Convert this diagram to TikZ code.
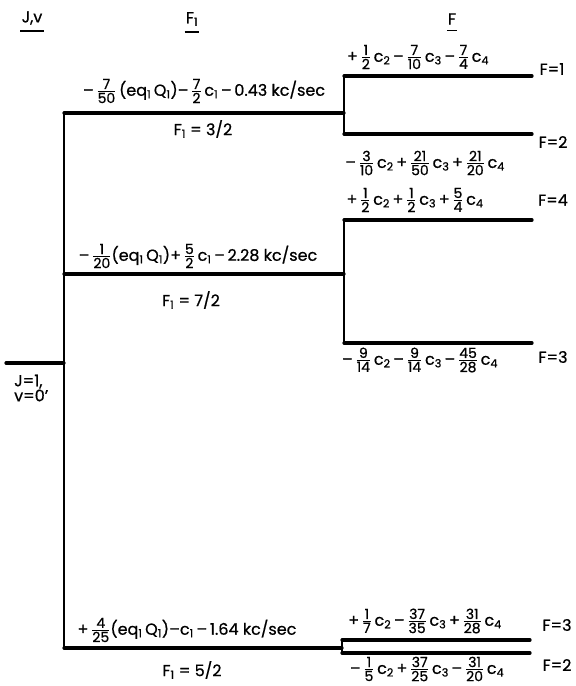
\documentclass[tikz,border=0pt]{standalone}
\usepackage{amsmath}
\usepackage{fontspec}
\setmainfont{Poppins}[FakeBold=0.7]
\newcommand{\fr}[2]{\ensuremath{\genfrac{}{}{0.9pt}{1}{\mbox{\fontsize{14}{14}\selectfont#1}}{\mbox{\fontsize{14}{14}\selectfont#2}}}}
\newcommand{\mi}{\,–\,}
\newcommand{\pl}{\,+\,}
\newcommand{\cc}[1]{c\textsubscript{#1}}
\newcommand{\eqQ}{(eq\textsubscript{1}\,Q\textsubscript{1})}
\tikzset{
  level/.style={line width=3.2pt, line cap=round},
  link/.style={line width=2.2pt},
  uline/.style={line width=1.4pt},
  flab/.style={font=\fontsize{16}{18}\selectfont}
}
\begin{document}
\begin{tikzpicture}[x=1pt, y=-1pt,
    every node/.style={font=\fontsize{16}{19}\selectfont, inner sep=1pt}]
    \useasboundingbox (0,0) rectangle (576,686);

    % column heads
    \node (hJ) at (32,18) {J,v};
    \node (hF1) at (192,19) {F\textsubscript{1}};
    \node (hF) at (452,19) {F};
    \draw[uline] ([yshift=-5pt]hJ.south west) -- ([yshift=-5pt]hJ.south east);
    \draw[uline] ([yshift=-5pt]hF1.south west) -- ([yshift=-5pt]hF1.south east);
    \draw[uline] ([yshift=-5pt]hF.south west) -- ([yshift=-5pt]hF.south east);

    % J level
    \coordinate (J0) at (6,363);
    \coordinate (J1) at (64,363);
    \draw[level] (J0) -- (J1);
    \node[anchor=west, align=left, font=\fontsize{16}{14}\selectfont] (jlab) at (13,388) {J=1,\\v=0'};

    % F1 levels
    \coordinate (A0) at (64,113);
    \coordinate (A1) at (344,113);
    \coordinate (B0) at (64,274);
    \coordinate (B1) at (344,274);
    \coordinate (C0) at (64,648);
    \coordinate (C1) at (342,648);
    \draw[link] (A0) -- (C0);
    \draw[level] (A0) -- (A1);
    \draw[level] (B0) -- (B1);
    \draw[level] (C0) -- (C1);

    \node (eA) at (204,91) {–\,\fr{7}{50}\,\eqQ–\,\fr{7}{2}\,\cc{1}\mi0.43 kc/sec};
    \node (fA) at (203,129) {F\textsubscript{1} = 3/2};
    \node (eB) at (198,256) {–\,\fr{1}{20}\eqQ+\,\fr{5}{2}\,\cc{1}\mi2.28 kc/sec};
    \node (fB) at (191,300) {F\textsubscript{1} = 7/2};
    \node (eC) at (187,630) {+\,\fr{4}{25}\eqQ–\cc{1}\mi1.64 kc/sec};
    \node (fC) at (192,670) {F\textsubscript{1} = 5/2};

    % F levels, F1 = 3/2
    \coordinate (a1) at (344,76);
    \coordinate (a1e) at (532,76);
    \coordinate (a2) at (344,134);
    \coordinate (a2e) at (532,134);
    \draw[link] (a1) -- (a2);
    \draw[level] (a1) -- (a1e);
    \draw[level] (a2) -- (a2e);
    \node (ea1) at (418,57) {+\,\fr{1}{2}\,\cc{2}\mi\fr{7}{10}\,\cc{3}\mi\fr{7}{4}\,\cc{4}};
    \node (ea2) at (425,163) {–\,\fr{3}{10}\,\cc{2}\pl\fr{21}{50}\,\cc{3}\pl\fr{21}{20}\,\cc{4}};
    \node[flab] (Fa1) at (552,69) {F=1};
    \node[flab] (Fa2) at (553,142) {F=2};

    % F levels, F1 = 7/2
    \coordinate (b4) at (344,220);
    \coordinate (b4e) at (532,220);
    \coordinate (b3) at (344,343);
    \coordinate (b3e) at (532,343);
    \draw[link] (b4) -- (b3);
    \draw[level] (b4) -- (b4e);
    \draw[level] (b3) -- (b3e);
    \node (eb4) at (415,200) {+\,\fr{1}{2}\,\cc{2}\pl\fr{1}{2}\,\cc{3}\pl\fr{5}{4}\,\cc{4}};
    \node (eb3) at (420,360) {–\,\fr{9}{14}\,\cc{2}\mi\fr{9}{14}\,\cc{3}\mi\fr{45}{28}\,\cc{4}};
    \node[flab] (Fb4) at (553,200) {F=4};
    \node[flab] (Fb3) at (553,357) {F=3};

    % F levels, F1 = 5/2
    \coordinate (c3) at (342,640);
    \coordinate (c3e) at (530,640);
    \coordinate (c2) at (342,653);
    \coordinate (c2e) at (530,653);
    \draw[link] (c3) -- (c2);
    \draw[level] (c3) -- (c3e);
    \draw[level] (c2) -- (c2e);
    \node (ec3) at (425,621) {+\,\fr{1}{7}\,\cc{2}\mi\fr{37}{35}\,\cc{3}\pl\fr{31}{28}\,\cc{4}};
    \node (ec2) at (427,669) {–\,\fr{1}{5}\,\cc{2}\pl\fr{37}{25}\,\cc{3}\mi\fr{31}{20}\,\cc{4}};
    \node[flab] (Fc3) at (557,625) {F=3};
    \node[flab] (Fc2) at (557,665) {F=2};
\end{tikzpicture}
\end{document}
